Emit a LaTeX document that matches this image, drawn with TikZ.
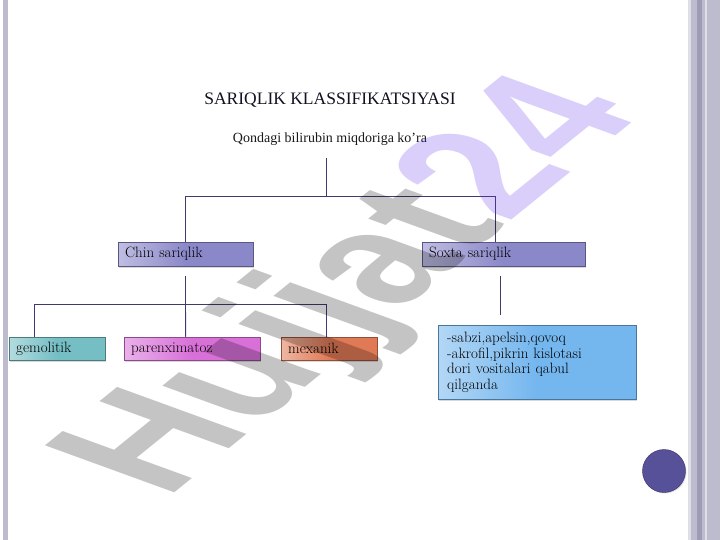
\documentclass[tikz,border=0pt]{standalone}
\usepackage{fontspec}
\newfontfamily\titlefont{Liberation Serif}
\newfontfamily\markfont{Liberation Sans}
\usetikzlibrary{shadows}

\definecolor{linec}{HTML}{3C3C6E}
\definecolor{lav}{HTML}{8B88C9}
\definecolor{tealc}{HTML}{74BEC4}
\definecolor{pnk}{HTML}{D870D8}
\definecolor{orng}{HTML}{E07A56}
\definecolor{sky}{HTML}{74B6EE}
\definecolor{stripc}{HTML}{BCBCCE}
\definecolor{dotc}{HTML}{57519A}
\definecolor{markv}{HTML}{6333EB}

\begin{document}
\begin{tikzpicture}[x=1pt,y=-1pt,
	conn/.style={draw=linec, line width=0.9pt},
	box/.style={draw=#1!65!black, left color=#1!55!white, right color=#1, middle color=#1,
		anchor=north west, align=left, inner xsep=7pt, minimum height=24pt,
		font=\fontsize{15}{15.5}\selectfont,
		drop shadow={shadow xshift=1.2pt, shadow yshift=-1.5pt, opacity=0.3}}]

\useasboundingbox (0,0) rectangle (720,540);
\fill[white] (0,0) rectangle (720,540);

% side strips
\fill[stripc] (3,0) rectangle (7.5,540);
\fill[stripc] (688,0) rectangle (720,540);
\fill[stripc!50!white] (688,0) rectangle (691,540);
\fill[stripc!75!linec] (697,0) rectangle (702,540);
\fill[stripc!50!white] (705,0) rectangle (707,540);

\node[anchor=base, text=black!70!linec, font=\titlefont\fontsize{17.5}{20}\selectfont] (title) at (330,105) {SARIQLIK KLASSIFIKATSIYASI};
\node[anchor=base, text=black!90, font=\titlefont\fontsize{14}{16}\selectfont] (sub) at (330,143) {Qondagi bilirubin miqdoriga ko’ra};

\node[box=lav, text width=121pt] (chin) at (118,242) {Chin sariqlik};
\node[box=lav, text width=149pt] (soxta) at (422,242) {Soxta sariqlik};
\node[box=tealc, text width=82pt, minimum height=23pt] (gem) at (9,337) {gemolitik};
\node[box=pnk, text width=122pt, minimum height=23pt] (paren) at (124,337) {parenximatoz};
\node[box=orng, text width=82pt, minimum height=23pt] (mex) at (281,337) {mexanik};
\node[box=sky, text width=180pt, inner xsep=9pt, minimum height=74pt] (info) at (438,325)
	{-sabzi,apelsin,qovoq\\-akrofil,pikrin kislotasi\\dori vositalari qabul\\qilganda};

\coordinate (qend) at (326,158);
\coordinate (fork1) at (326,196);
\coordinate (chinfoot) at (185.5,276);
\coordinate (fork2) at (185.5,304);
\coordinate (sfoot) at (500,276);
\coordinate (shead) at (500,315);

\draw[conn] (qend) -- (fork1) -| (chin.north);
\draw[conn] (fork1) -| ([xshift=-8pt]soxta.north);
\draw[conn] (chinfoot) -- (fork2) -| ([xshift=-23pt]gem.north);
\draw[conn] (fork2) -- ([xshift=-6.5pt]paren.north);
\draw[conn] (fork2) -| ([xshift=-3pt]mex.north);
\draw[conn] (sfoot) -- (shead);

\node[circle, fill=dotc, draw=dotc!60!black, minimum size=43pt,
	drop shadow={shadow xshift=1pt, shadow yshift=-1pt, opacity=0.25}] (navdot) at (664,471) {};

\node[transform shape, cm={1.228,0.994,-1.880,0.684,(166,500)}, anchor=base west, inner sep=0,
	text=black, text opacity=0.23, font=\markfont\bfseries\fontsize{100}{100}\selectfont] (mark) at (0,0) {Hujjat\textcolor{markv}{24}};
\end{tikzpicture}
\end{document}
